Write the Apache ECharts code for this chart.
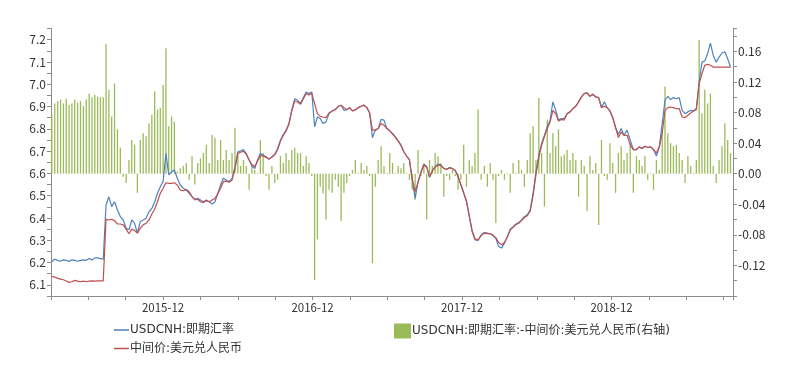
<!DOCTYPE html>
<html><head><meta charset="utf-8">
<script src="https://cdn.jsdelivr.net/npm/echarts@6/dist/echarts.min.js"></script>
<style>html,body{margin:0;padding:0;background:#fff}#c{width:786px;height:373px}</style>
</head><body><div id="c"></div>
<script>
// Weekly samples (Fridays) starting from this date
const startDate = '2015-04-03';
const stepDays = 7;

// USDCNH spot rate (left axis)
const spot = [
6.205,6.215,6.21,6.206,6.212,6.21,6.205,6.212,6.21,6.206,6.21,6.212,6.21,6.218,6.212,6.221,6.221,6.218,6.215,
6.458,6.495,6.451,6.473,6.436,6.406,6.391,6.354,6.347,6.391,6.376,6.332,6.384,6.391,6.399,6.428,6.443,6.473,6.511,6.54,6.563,
6.69,6.593,6.607,6.615,6.578,6.548,6.533,6.525,6.51,6.496,6.484,6.488,6.481,6.473,6.481,6.473,6.463,6.473,6.51,6.548,6.578,
6.57,6.563,6.578,6.63,6.697,6.701,6.707,6.689,6.66,6.633,6.622,6.66,6.689,6.682,6.675,6.663,6.675,6.686,6.712,6.749,6.774,6.794,6.824,6.886,6.935,6.928,6.913,6.94,6.965,6.958,6.965,
6.809,6.853,6.846,6.824,6.831,6.868,6.88,6.886,6.901,6.906,6.883,6.886,6.895,6.88,6.886,6.895,6.901,6.906,6.895,6.871,6.76,6.794,6.801,6.842,6.839,6.801,6.791,
6.779,6.764,6.746,6.727,6.697,6.678,6.66,6.57,6.488,6.563,6.607,6.642,6.63,6.582,6.612,6.63,6.642,6.637,6.622,6.618,6.627,6.622,6.612,6.585,6.548,6.511,6.473,6.406,6.339,6.302,
6.299,6.324,6.335,6.332,6.329,6.32,6.309,6.272,6.265,6.287,6.317,6.35,6.361,6.373,6.379,6.391,6.406,6.414,6.436,6.51,6.607,6.682,6.734,6.771,6.809,6.839,6.921,6.883,6.839,6.846,
6.846,6.868,6.876,6.891,6.901,6.921,6.943,6.958,6.961,6.946,6.955,6.943,6.94,6.895,6.921,6.895,6.88,6.85,6.806,6.776,6.801,6.771,6.794,6.749,6.707,6.707,6.719,6.712,6.722,6.716,
6.719,6.707,6.678,6.719,6.824,6.928,6.946,6.931,6.94,6.935,6.94,6.883,6.868,6.876,6.883,6.88,6.891,7.01,7.099,7.104,7.137,7.184,7.129,7.099,7.122,7.14,7.146,7.114,7.077
];

// USD/CNY central parity (left axis)
const fixing = [
6.138,6.135,6.129,6.126,6.123,6.117,6.111,6.114,6.12,6.117,6.114,6.117,6.114,6.117,6.118,6.117,6.118,6.118,6.118,
6.394,6.391,6.394,6.388,6.373,6.373,6.369,6.35,6.329,6.35,6.344,6.332,6.354,6.369,6.376,6.391,6.418,6.439,6.473,6.511,6.533,
6.558,6.555,6.555,6.558,6.548,6.525,6.522,6.528,6.518,6.496,6.481,6.484,6.473,6.469,6.478,6.473,6.481,6.488,6.508,6.533,6.563,
6.565,6.56,6.57,6.62,6.69,6.695,6.70,6.685,6.66,6.64,6.63,6.655,6.68,6.678,6.672,6.665,6.672,6.684,6.706,6.745,6.77,6.79,6.82,6.88,6.925,6.92,6.91,6.935,6.958,6.952,6.96,
6.913,6.868,6.856,6.853,6.85,6.871,6.88,6.886,6.901,6.906,6.895,6.886,6.895,6.88,6.886,6.895,6.901,6.906,6.895,6.871,6.794,6.794,6.801,6.824,6.816,6.801,6.791,
6.776,6.762,6.745,6.725,6.697,6.678,6.662,6.575,6.518,6.56,6.603,6.638,6.628,6.585,6.61,6.628,6.638,6.635,6.622,6.618,6.625,6.622,6.614,6.588,6.55,6.514,6.476,6.41,6.344,6.306,
6.302,6.322,6.332,6.33,6.33,6.322,6.312,6.29,6.28,6.29,6.315,6.346,6.358,6.37,6.376,6.388,6.402,6.41,6.43,6.5,6.595,6.672,6.726,6.765,6.8,6.83,6.883,6.868,6.835,6.842,
6.839,6.868,6.876,6.891,6.901,6.921,6.943,6.958,6.961,6.946,6.955,6.943,6.94,6.895,6.901,6.895,6.88,6.85,6.806,6.761,6.786,6.771,6.771,6.727,6.707,6.707,6.719,6.712,6.722,6.716,
6.719,6.707,6.692,6.719,6.779,6.883,6.895,6.898,6.895,6.891,6.891,6.853,6.85,6.861,6.871,6.88,6.886,7.003,7.047,7.085,7.089,7.085,7.077,7.077,7.077,7.077,7.077,7.077,7.077
];

// Spot minus central parity (right axis)
const spread = [
0.077,0.092,0.095,0.097,0.092,0.098,0.09,0.092,0.097,0.093,0.095,0.089,0.097,0.105,0.1,0.103,0.101,0.1,0.1,
0.17,0.11,0.075,0.118,0.058,0.034,-0.004,-0.012,0.018,0.044,0.038,-0.025,0.044,0.053,0.049,0.066,0.077,0.108,0.084,0.086,0.116,
0.164,0.062,0.075,0.068,0.003,0.007,0.01,0.014,-0.008,0.023,-0.014,0.014,0.02,0.027,0.038,0.014,0.051,0.047,0.018,0.044,0.018,
0.031,0.018,0.027,0.06,0.027,0.01,0.018,0.01,-0.021,0.01,0.005,0.001,0.044,0.027,-0.003,-0.021,0.01,-0.012,-0.008,0.023,0.014,0.027,0.018,0.031,0.034,0.027,0.027,0.01,0.023,0.014,-0.003,
-0.139,-0.086,-0.017,-0.026,-0.06,-0.021,-0.025,-0.008,-0.017,-0.062,-0.025,-0.012,-0.003,0.005,0.018,0.001,0.014,0.005,0.01,-0.003,-0.117,-0.017,0.018,0.036,0.01,0.001,0.027,
0.014,0.001,0.01,0.007,0.014,0.001,-0.008,-0.021,-0.034,0.031,-0.003,0.01,-0.06,0.018,0.01,0.027,0.023,0.014,-0.03,-0.003,-0.008,0.005,-0.003,-0.021,-0.008,0.038,-0.017,0.018,0.01,0.027,
0.084,-0.008,0.01,-0.017,0.014,-0.008,-0.064,-0.003,0.005,-0.008,0.001,-0.025,0.014,0.001,0.018,0.005,-0.017,0.018,0.053,0.062,0.018,0.099,0.027,-0.043,0.071,0.027,0.053,0.036,0.058,0.023,
0.025,0.031,0.018,0.027,0.018,-0.03,0.018,0.01,-0.049,0.023,0.005,0.014,-0.067,0.044,-0.003,-0.008,0.04,0.014,-0.025,0.027,0.036,0.018,0.027,0.04,-0.025,0.023,0.018,0.01,0.023,-0.008,
0.001,-0.021,0.018,0.005,0.058,0.114,0.053,0.04,0.036,0.038,0.027,0.018,-0.012,0.023,0.01,0.001,0.018,0.175,0.079,0.11,0.092,0.105,0.01,-0.012,0.018,0.036,0.066,0.044,0.027
];

const yearTickLabels = ['2015-12','2016-12','2017-12','2018-12'];
const seriesNames = ['USDCNH:即期汇率','中间价:美元兑人民币','USDCNH:即期汇率:-中间价:美元兑人民币(右轴)'];

// Convert a date to fractional months since 2015-01-01 (axis coordinate)
function toMonths(ms){
  const d = new Date(ms);
  const y = d.getUTCFullYear(), m = d.getUTCMonth(), day = d.getUTCDate();
  const dim = new Date(Date.UTC(y, m + 1, 0)).getUTCDate();
  return (y - 2015) * 12 + m + (day - 1) / dim;
}
const t0 = Date.parse(startDate + 'T00:00:00Z');
const xs = spot.map((_, i) => toMonths(t0 + i * stepDays * 86400000));

const FONT = "'Noto Sans CJK SC', 'Noto Sans', sans-serif";
const LEGEND_FONT = "'DejaVu Sans', 'Noto Sans CJK SC', sans-serif";
const axisGray = '#8c8c8c';

const chart = echarts.init(document.getElementById('c'), null, {renderer: 'canvas'});
chart.setOption({
  animation: false,
  backgroundColor: '#fff',
  grid: {left: 51, right: 53, top: 28.5, bottom: 77, containLabel: false},
  xAxis: {
    type: 'value', min: 3, max: 57.75, interval: 3,
    axisLine: {show: true, onZero: false, lineStyle: {color: axisGray, width: 1}},
    axisTick: {show: true, length: 4, lineStyle: {color: axisGray}},
    splitLine: {show: false},
    axisLabel: {
      fontFamily: FONT, fontSize: 11.5, color: '#333', margin: 6, showMinLabel: true, showMaxLabel: true,
      formatter: v => { const r = Math.round(v); return (Math.abs(v - r) < 1e-6 && r % 12 === 0) ? (yearTickLabels[r / 12 - 1] || '') : ''; }
    }
  },
  yAxis: [
    {
      type: 'value', position: 'left', min: 6.05, max: 7.25, interval: 0.05,
      axisLine: {show: true, onZero: false, lineStyle: {color: axisGray}},
      axisTick: {show: true, length: 4, lineStyle: {color: axisGray}},
      splitLine: {show: false},
      axisLabel: {
        fontFamily: FONT, fontSize: 12, color: '#333', margin: 5,
        formatter: v => (Math.round(v * 100) % 10 === 0) ? v.toFixed(1) : ''
      }
    },
    {
      type: 'value', position: 'right', min: -0.16, max: 0.19, interval: 0.02,
      axisLine: {show: true, onZero: false, lineStyle: {color: axisGray}},
      axisTick: {show: true, length: 4, lineStyle: {color: axisGray}},
      splitLine: {show: false},
      axisLabel: {
        fontFamily: FONT, fontSize: 12, color: '#333', margin: 5,
        formatter: v => { const k = Math.round(v * 100); if (k % 4 !== 0 || k < -14) return ''; return Math.abs(v) < 1e-9 ? '0.00' : v.toFixed(2); }
      }
    }
  ],
  legend: [
    {data: [seriesNames[0]], left: 109, top: 319, icon: 'rect', itemWidth: 15, itemHeight: 1.5,
     textStyle: {fontFamily: LEGEND_FONT, fontSize: 12, color: '#333', padding: [0,0,0,-4]}},
    {data: [seriesNames[1]], left: 109, top: 337.5, icon: 'rect', itemWidth: 15, itemHeight: 1.5,
     textStyle: {fontFamily: LEGEND_FONT, fontSize: 12, color: '#333', padding: [0,0,0,-4]}},
    {data: [seriesNames[2]], left: 389, top: 318.5, icon: 'rect', itemWidth: 17, itemHeight: 15,
     textStyle: {fontFamily: LEGEND_FONT, fontSize: 12, color: '#333', padding: [0,0,0,-4]}}
  ],
  series: [
    {
      name: seriesNames[2], type: 'bar', yAxisIndex: 1, barWidth: 1.3,
      itemStyle: {color: '#9BBB59'},
      data: xs.map((x, i) => [x, spread[i]])
    },
    {
      name: seriesNames[0], type: 'line', yAxisIndex: 0, showSymbol: false, symbol: 'none',
      lineStyle: {color: '#4F81BD', width: 1.2}, itemStyle: {color: '#4F81BD'},
      data: xs.map((x, i) => [x, spot[i]])
    },
    {
      name: seriesNames[1], type: 'line', yAxisIndex: 0, showSymbol: false, symbol: 'none',
      lineStyle: {color: '#C0504D', width: 1.2}, itemStyle: {color: '#C0504D'},
      data: xs.map((x, i) => [x, fixing[i]])
    }
  ]
});
</script>
</body></html>
